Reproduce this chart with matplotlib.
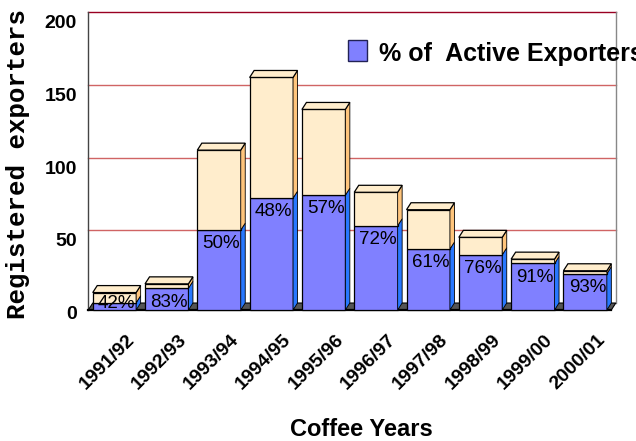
import matplotlib.pyplot as plt
from matplotlib.patches import Polygon
from matplotlib.transforms import ScaledTranslation

# coffee exporters per season
years = ['1991/92', '1992/93', '1993/94', '1994/95', '1995/96',
         '1996/97', '1997/98', '1998/99', '1999/00', '2000/01']
registered = [12, 18, 110, 160, 138, 81, 69, 50, 35, 27]
active = [5, 15, 55, 77, 79, 58, 42, 38, 32, 25]
yticks = [0, 50, 100, 150, 200]

# colours
blue = '#8080ff'
blue_side = '#2878ff'
cream = '#ffedcc'
cream_side = '#ffc57c'
floor_col = '#555555'
grid_col = '#d06464'

# fake 3d depth (data units) and bar width
dx = 0.086
dy = 4.8
w = 0.83

plt.rcParams['font.family'] = 'Liberation Sans'

fig = plt.figure(figsize=(6.36, 4.41), dpi=100)
ax = fig.add_axes([0.1352, 0.288, 0.8396, 0.6939])
ax.set_xlim(-0.544, 9.666)
ax.set_ylim(-2.75, 207.8)
for s in ax.spines.values():
    s.set_visible(False)

# back wall grid
for v in yticks[1:]:
    ax.plot([-0.5, 9.5 + dx], [v + dy, v + dy], color='#990022' if v == 200 else grid_col,
            lw=1.0, zorder=0.5)
ax.plot([9.5 + dx, 9.5 + dx], [dy, 200 + dy], color='#888888', lw=1.0, zorder=0.6)
ax.plot([-0.5, -0.5], [0, 200 + dy], color='#444444', lw=1.0, zorder=0.6)

# floor
ax.add_patch(Polygon([(-0.5, 0), (9.5, 0), (9.5 + dx, dy), (-0.5 + dx, dy)],
                     closed=True, fc=floor_col, ec='black', lw=0.8, zorder=1))
ax.plot([-0.5, 9.5], [0, 0], color='black', lw=1.6, zorder=1.2)


def box(x, y0, y1, front, side, z):
    l, r = x - w / 2, x + w / 2
    ax.add_patch(Polygon([(l, y0), (r, y0), (r, y1), (l, y1)], closed=True,
                         fc=front, ec='black', lw=0.9, zorder=z))
    ax.add_patch(Polygon([(r, y0), (r + dx, y0 + dy), (r + dx, y1 + dy), (r, y1)],
                         closed=True, fc=side, ec='black', lw=0.6, zorder=z))


for i, (t, a) in enumerate(zip(registered, active)):
    box(i, 0, a, blue, blue_side, 2)
    box(i, a, t, cream, cream_side, 2)
    l, r = i - w / 2, i + w / 2
    ax.add_patch(Polygon([(l, t), (r, t), (r + dx, t + dy), (l + dx, t + dy)],
                         closed=True, fc=cream, ec='black', lw=0.9, zorder=2.1))
    pct = round(100 * a / t)
    ax.text(i + 0.045, max(a - 9.5, 4.5), f'{pct}%', ha='center', va='center',
            fontsize=13.5, color='black', zorder=5)

# axis labels
ax.set_xticks([])
ax.set_yticks(yticks)
ax.set_yticklabels([str(v) for v in yticks], fontsize=14, fontweight='bold')
ax.tick_params(axis='y', length=0, pad=6.5)
for lbl in ax.get_yticklabels():
    lbl.set_transform(lbl.get_transform() + ScaledTranslation(0, -2.5 / 100, fig.dpi_scale_trans))

for i, lab in enumerate(years):
    ax.annotate(lab, xy=(i, 0), xytext=(12.5, -19.8), textcoords='offset points',
                ha='right', va='center', rotation=45, rotation_mode='anchor',
                fontsize=14, fontweight='bold', annotation_clip=False)

fig.text(18 / 636, 1 - 164 / 441, 'Registered exporters', rotation=90,
         ha='center', va='center', fontsize=18.5, fontweight='bold',
         family='Liberation Mono')
fig.text(361 / 636, 1 - 429 / 441, 'Coffee Years', ha='center', va='center',
         fontsize=17, fontweight='bold')

# legend
fig.patches.append(Polygon([(348 / 636, 1 - 40 / 441), (367 / 636, 1 - 40 / 441),
                            (367 / 636, 1 - 61 / 441), (348 / 636, 1 - 61 / 441)],
                           closed=True, fc=blue, ec='#222255', lw=1.0,
                           transform=fig.transFigure))
fig.text(379 / 636, 1 - 61.5 / 441, '% of  Active Exporters', ha='left',
         va='baseline', fontsize=18, fontweight='bold')

fig.savefig('out.png', dpi=100)
